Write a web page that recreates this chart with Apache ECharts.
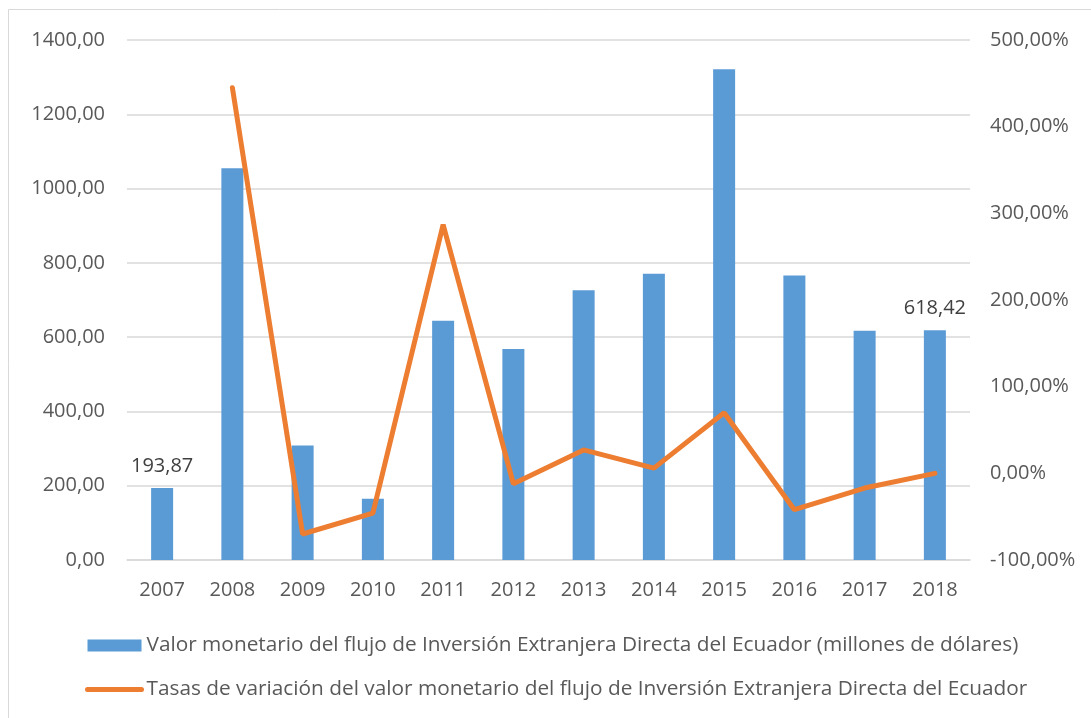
<!DOCTYPE html>
<html>
<head>
<meta charset="utf-8">
<script src="https://cdn.jsdelivr.net/npm/echarts@6/dist/echarts.min.js"></script>
<style>
  html, body { margin: 0; padding: 0; background: #fff; }
  #chart { width: 1091px; height: 718px; }
</style>
</head>
<body>
<div id="chart"></div>
<script>
  // datos
  var years = ['2007', '2008', '2009', '2010', '2011', '2012', '2013', '2014', '2015', '2016', '2017', '2018']
  var flujo = [193.87, 1055, 308, 165, 644, 568, 726, 771, 1321, 766, 617, 618.42]
  var tasas = [null, 445, -70, -46, 287, -12, 27, 6, 70, -42, -17, 0]
  var barName = 'Valor monetario del flujo de Inversión Extranjera Directa del Ecuador (millones de dólares)'
  var lineName = 'Tasas de variación del valor monetario del flujo de Inversión Extranjera Directa del Ecuador'

  var font = '"Open Sans", sans-serif'
  var coma = function (v) { return v.toFixed(2).replace('.', ',') }

  // solo el primer y el último dato llevan etiqueta
  var barData = flujo.map(function (v, i) {
    var show = i === 0 || i === flujo.length - 1
    return { value: v, label: { show: show } }
  })

  var chart = echarts.init(document.getElementById('chart'))
  var option = {
    backgroundColor: '#fff',
    animation: false,
    graphic: [{
      type: 'rect',
      shape: { x: 8.5, y: 9.5, width: 1100, height: 720 },
      style: { fill: 'none', stroke: '#d9d9d9', lineWidth: 1 },
      silent: true
    }],
    grid: { left: 127, right: 121, top: 40, bottom: 158 },
    legend: {
      orient: 'vertical',
      left: 80,
      top: 630,
      itemWidth: 54,
      itemHeight: 12,
      itemGap: 23,
      textStyle: { fontFamily: font, fontSize: 20.8, color: '#595959' },
      data: [
        { name: barName, icon: 'rect' },
        { name: lineName, itemStyle: { opacity: 0 }, lineStyle: { width: 5, cap: 'round' } }
      ]
    },
    xAxis: {
      type: 'category',
      data: years,
      axisLine: { lineStyle: { color: '#d9d9d9', width: 1.5 } },
      axisTick: { show: false },
      axisLabel: { fontFamily: font, fontSize: 20, color: '#595959', margin: 20 }
    },
    yAxis: [{
      type: 'value',
      min: 0,
      max: 1400,
      interval: 200,
      axisLabel: {
        fontFamily: font, fontSize: 20, color: '#595959', margin: 22,
        formatter: function (v) { return coma(v) }
      },
      splitLine: { lineStyle: { color: '#d9d9d9', width: 1.5 } }
    }, {
      type: 'value',
      min: -100,
      max: 500,
      interval: 100,
      axisLabel: {
        fontFamily: font, fontSize: 20, color: '#595959', margin: 20,
        formatter: function (v) { return coma(v) + '%' }
      },
      splitLine: { show: false }
    }],
    series: [{
      name: barName,
      type: 'bar',
      data: barData,
      barWidth: 22,
      itemStyle: { color: '#5B9BD5' },
      label: {
        position: 'top',
        distance: 12,
        fontFamily: font,
        fontSize: 20,
        color: '#404040',
        formatter: function (p) { return coma(p.value) }
      }
    }, {
      name: lineName,
      type: 'line',
      yAxisIndex: 1,
      data: tasas,
      symbol: 'none',
      lineStyle: { color: '#ED7D31', width: 5, cap: 'round' },
      itemStyle: { color: '#ED7D31' }
    }]
  }
  chart.setOption(option)
</script>
</body>
</html>
